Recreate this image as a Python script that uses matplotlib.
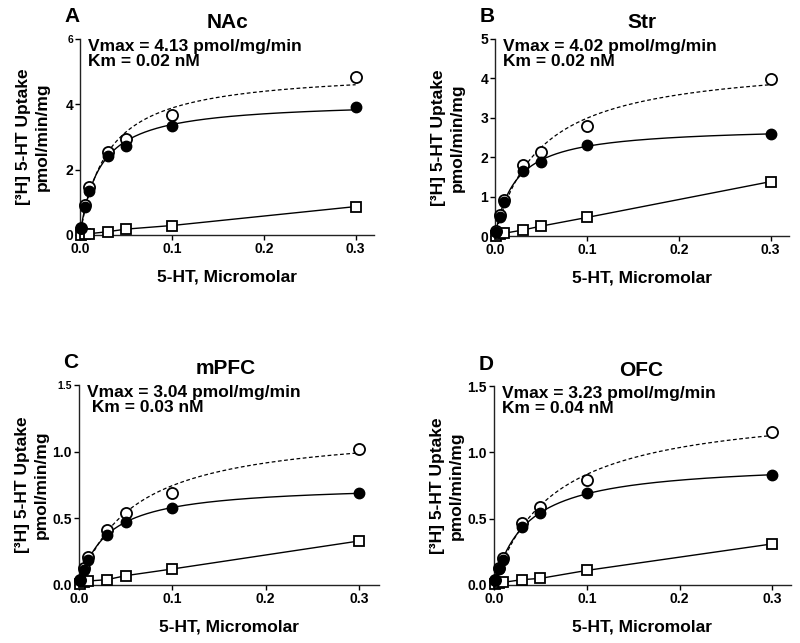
import numpy as np
import matplotlib
matplotlib.use("Agg")
import matplotlib.pyplot as plt

plt.rcParams['font.family'] = ['Liberation Sans', 'DejaVu Sans']
plt.rcParams['font.weight'] = 'bold'

# 5-HT concentrations (micromolar)
conc = [0.001, 0.005, 0.01, 0.03, 0.05, 0.1, 0.3]

# specific uptake (filled), total uptake (open), nonspecific (squares)
nac_spec = [0.21, 0.86, 1.36, 2.42, 2.72, 3.34, 3.93]
nac_total = [0.20, 0.92, 1.46, 2.55, 2.93, 3.67, 4.83]
nac_ns = [0.01, 0.03, 0.04, 0.10, 0.18, 0.29, 0.87]

str_spec = [0.11, 0.49, 0.86, 1.64, 1.87, 2.31, 2.58]
str_total = [0.13, 0.53, 0.92, 1.79, 2.12, 2.78, 3.98]
str_ns = [0.01, 0.04, 0.07, 0.15, 0.25, 0.47, 1.38]

mpfc_spec = [0.04, 0.11, 0.19, 0.375, 0.47, 0.58, 0.69]
mpfc_total = [0.04, 0.125, 0.21, 0.41, 0.54, 0.69, 1.02]
mpfc_ns = [0.01, 0.02, 0.03, 0.04, 0.07, 0.12, 0.33]

ofc_spec = [0.04, 0.12, 0.19, 0.44, 0.54, 0.69, 0.83]
ofc_total = [0.04, 0.125, 0.20, 0.47, 0.585, 0.79, 1.15]
ofc_ns = [0.01, 0.015, 0.02, 0.04, 0.05, 0.11, 0.31]

panels = [
    ("A", "NAc", "Vmax = 4.13 pmol/mg/min", "Km = 0.02 nM", nac_spec, nac_total, nac_ns, [0, 2, 4, 6], ["0", "2", "4", "6"]),
    ("B", "Str", "Vmax = 4.02 pmol/mg/min", "Km = 0.02 nM", str_spec, str_total, str_ns, [0, 1, 2, 3, 4, 5], ["0", "1", "2", "3", "4", "5"]),
    ("C", "mPFC", "Vmax = 3.04 pmol/mg/min", " Km = 0.03 nM", mpfc_spec, mpfc_total, mpfc_ns, [0, 0.5, 1.0, 1.5], ["0.0", "0.5", "1.0", "1.5"]),
    ("D", "OFC", "Vmax = 3.23 pmol/mg/min", "Km = 0.04 nM", ofc_spec, ofc_total, ofc_ns, [0, 0.5, 1.0, 1.5], ["0.0", "0.5", "1.0", "1.5"]),
]

# axes boxes in pixels: left, top, right, bottom
boxes = [(80, 39, 374, 235), (495, 39, 789, 236), (79, 385, 379, 585), (494, 386, 791, 585)]
small_top = [True, False, True, False]

W, H = 800, 643


def mm_fit(x, y):
    # simple Michaelis-Menten least squares, grid over Km
    x = np.asarray(x)
    y = np.asarray(y)
    best = None
    for k in np.linspace(0.002, 0.2, 4000):
        f = x / (k + x)
        v = np.sum(y * f) / np.sum(f * f)
        sse = np.sum((y - v * f) ** 2)
        if best is None or sse < best[0]:
            best = (sse, v, k)
    return best[1], best[2]


fig = plt.figure(figsize=(8, 6.43), dpi=100)
xs = np.linspace(0, 0.3, 400)

for i, (letter, title, vtxt, ktxt, spec, total, ns, yt, ytl) in enumerate(panels):
    l, t, r, b = boxes[i]
    ax = fig.add_axes([l / W, 1 - b / H, (r - l) / W, (b - t) / H])
    ymax = yt[-1]

    v1, k1 = mm_fit(conc, spec)
    v2, k2 = mm_fit(conc, total)
    ax.plot(xs, v1 * xs / (k1 + xs), '-', color='black', lw=1.0, zorder=2)
    ax.plot(xs, v2 * xs / (k2 + xs), '--', color='black', lw=0.9, dashes=(3, 2), zorder=2)
    ax.plot(conc, ns, '-', color='black', lw=1.0, zorder=2)

    ax.plot(conc, ns, 's', ms=7.5, mfc='white', mec='black', mew=1.3, zorder=3, clip_on=False)
    ax.plot(conc, total, 'o', ms=8, mfc='white', mec='black', mew=1.3, zorder=3, clip_on=False)
    ax.plot(conc, spec, 'o', ms=7.5, mfc='black', mec='black', zorder=4, clip_on=False)

    ax.set_xlim(0, 0.32 if i != 2 else 0.3215)
    ax.set_ylim(0, ymax)
    ax.set_xticks([0, 0.1, 0.2, 0.3])
    ax.set_xticklabels(["0.0", "0.1", "0.2", "0.3"])
    ax.set_yticks(yt)
    ax.set_yticklabels(ytl)
    ax.tick_params(labelsize=10, length=3.5, width=1, pad=1.5)
    if small_top[i]:
        ax.get_yticklabels()[-1].set_fontsize(7.5)

    for s in ['top', 'right']:
        ax.spines[s].set_visible(False)
    for s in ['left', 'bottom']:
        ax.spines[s].set_linewidth(1.0)
        ax.spines[s].set_color('#222222')

    ax.set_xlabel("5-HT, Micromolar", fontsize=12.5, fontweight='bold', labelpad=10)
    ax.set_ylabel("[³H] 5-HT Uptake\npmol/min/mg", fontsize=12.5, fontweight='bold', linespacing=1.3)
    ax.yaxis.set_label_coords(-30 / (r - l), 0.5)

    # panel letter and title
    fig.text((l - 8) / W, 1 - (t - 22) / H, letter, fontsize=15, fontweight='bold', ha='center', va='center')
    fig.text((l + 147) / W, 1 - (t - 16) / H, title, fontsize=15, fontweight='bold', ha='center', va='center')
    fig.text((l + 8) / W, 1 - (t + 15) / H, vtxt + "\n" + ktxt, fontsize=12.5, fontweight='bold',
             ha='left', va='center', linespacing=1.05)

fig.savefig("out.png", dpi=100)
